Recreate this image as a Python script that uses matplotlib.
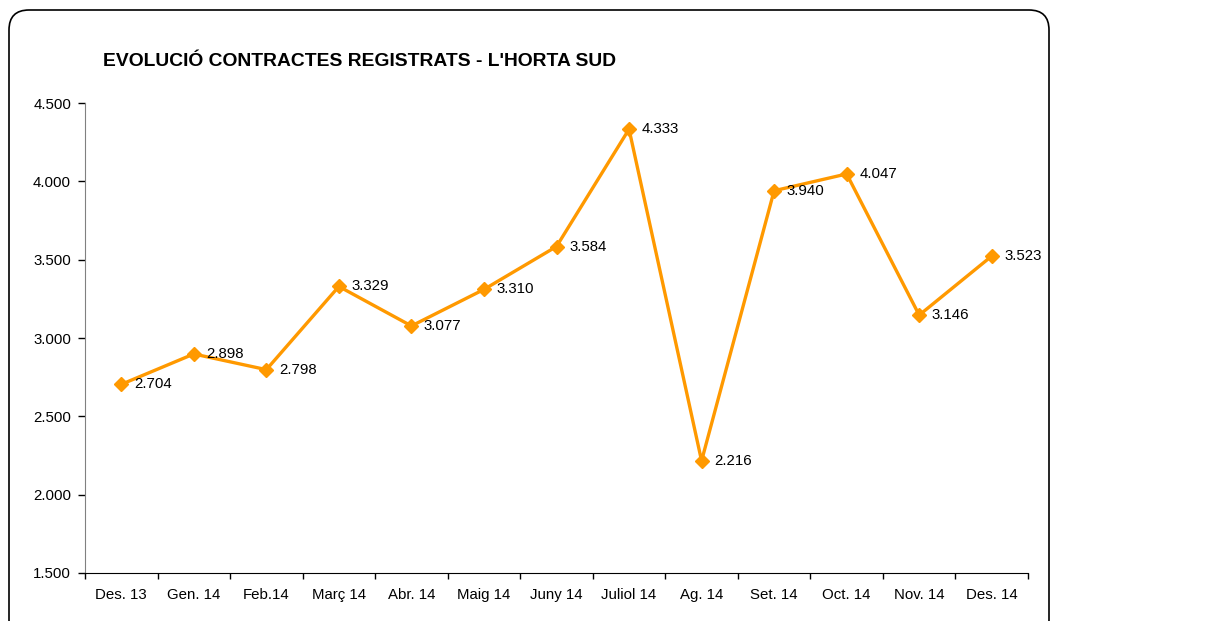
import matplotlib.pyplot as plt
from matplotlib.patches import FancyBboxPatch
from matplotlib.ticker import FuncFormatter

plt.rcParams['font.family'] = ['Liberation Sans', 'DejaVu Sans']

months = ["Des. 13", "Gen. 14", "Feb.14", "Març 14", "Abr. 14", "Maig 14", "Juny 14",
          "Juliol 14", "Ag. 14", "Set. 14", "Oct. 14", "Nov. 14", "Des. 14"]
contracts = [2704, 2898, 2798, 3329, 3077, 3310, 3584, 4333, 2216, 3940, 4047, 3146, 3523]
y_ticks = [1500, 2000, 2500, 3000, 3500, 4000, 4500]

W, H = 1214, 621
fig = plt.figure(figsize=(W / 100, H / 100), dpi=100)

# rounded chart frame (inches, origin bottom-left)
frame = FancyBboxPatch((9 / 100, (H - 640) / 100), (1049 - 9) / 100, (640 - 10) / 100,
                       boxstyle="round,pad=0,rounding_size=0.2",
                       transform=fig.dpi_scale_trans, facecolor="white",
                       edgecolor="black", linewidth=1.2, zorder=-1)
fig.patches.append(frame)

ax = fig.add_axes([85 / W, 1 - 573 / H, (1028 - 85) / W, (573 - 103) / H])
ax.set_facecolor("none")
ax.set_zorder(2)

x = list(range(len(months)))
ax.plot(x, contracts, color="#FF9900", linewidth=2.4, marker="D", markersize=7.5,
        markerfacecolor="#FF9900", markeredgecolor="#FF9900", clip_on=False)

fmt = lambda v: f"{v:,.0f}".replace(",", ".")
for xi, v in zip(x, contracts):
    ax.annotate(fmt(v), (xi, v), xytext=(9, 0), textcoords="offset points",
                va="center", ha="left", fontsize=10.8)

ax.set_xlim(-0.5, len(months) - 0.5)
ax.set_ylim(1500, 4500)
ax.set_yticks(y_ticks)
ax.yaxis.set_major_formatter(FuncFormatter(lambda v, p: fmt(v)))
ax.set_xticks(x)
ax.set_xticklabels(months)
ax.set_xticks([i - 0.5 for i in range(len(months) + 1)], minor=True)
ax.tick_params(axis="x", which="major", length=0, pad=11, labelsize=10.8)
ax.tick_params(axis="x", which="minor", length=4, width=1, direction="out", color="black")
ax.tick_params(axis="y", length=5, width=1, direction="out", labelsize=10.8, pad=5)

for s in ["top", "right"]:
    ax.spines[s].set_visible(False)
ax.spines["left"].set_color("#808080")
ax.spines["bottom"].set_color("black")

fig.text(103 / W, 1 - 61 / H, "EVOLUCIÓ CONTRACTES REGISTRATS - L'HORTA SUD",
         fontsize=13.85, fontweight="bold", va="center", ha="left")

fig.savefig("out.png", dpi=100)
